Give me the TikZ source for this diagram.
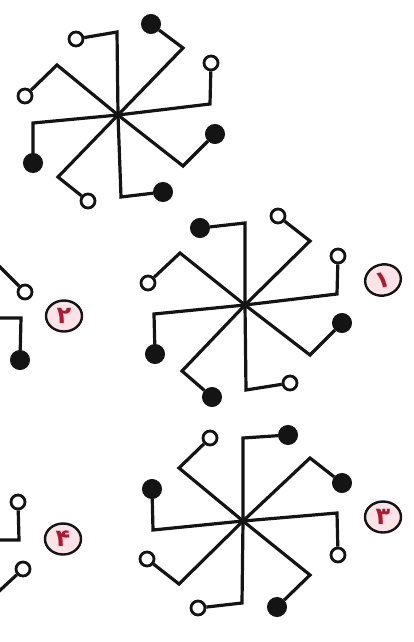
\documentclass[tikz,border=0pt]{standalone}
\usepackage{fontspec}
\usetikzlibrary{shapes.geometric}
\newfontfamily\arabicfont[Script=Arabic]{DejaVu Sans}
\definecolor{WheelInk}{HTML}{141414}
\definecolor{LabelRed}{HTML}{B01830}
\definecolor{LabelPink}{HTML}{FBE3E8}

\begin{document}
\begin{tikzpicture}[
  x=1pt, y=-1pt,
  arm/.style={draw=WheelInk, line width=3.2pt, line join=miter},
  opendot/.style={circle, draw=WheelInk, line width=2.8pt, fill=white,
    minimum size=14pt, inner sep=0pt},
  fulldot/.style={circle, draw=WheelInk, line width=1pt, fill=WheelInk,
    minimum size=19pt, inner sep=0pt},
  numlabel/.style={ellipse, draw=WheelInk, line width=2.4pt, fill=LabelPink,
    minimum width=36pt, minimum height=31pt, inner sep=0pt, text=LabelRed,
    font=\arabicfont\bfseries\fontsize{24}{24}\selectfont}
]
  \useasboundingbox (0,0) rectangle (413,642);
  \clip (0,0) rectangle (413,642);

  % top wheel
  \coordinate (top) at (118,115);
  \foreach \ex/\ey/\dx/\dy/\kind [count=\i] in {
      117/32/76/39/opendot, 183/48/151/24/fulldot,
      210/104/211/63/opendot, 183/166/215/134/fulldot,
      121/197/163/192/fulldot, 58/177/88/201/opendot,
      33/123/33/163/fulldot, 57/65/25/96/opendot}{
    \coordinate (top-e\i) at (\ex,\ey);
    \node[\kind] (top-d\i) at (\dx,\dy) {};
    \draw[arm] (top) -- (top-e\i) -- (top-d\i);
  }

  % wheel 1
  \coordinate (one) at (245,305);
  \foreach \ex/\ey/\dx/\dy/\kind [count=\i] in {
      245/223/200/228/fulldot, 310/241/278/216/opendot,
      337/294/338/256/opendot, 310/355/342/323/fulldot,
      246/390/290/383/opendot, 182/371/212/397/fulldot,
      154/314/155/354/fulldot, 180/253/148/283/opendot}{
    \coordinate (one-e\i) at (\ex,\ey);
    \node[\kind] (one-d\i) at (\dx,\dy) {};
    \draw[arm] (one) -- (one-e\i) -- (one-d\i);
  }

  % wheel 3
  \coordinate (three) at (243,521);
  \foreach \ex/\ey/\dx/\dy/\kind [count=\i] in {
      243/438/288/435/fulldot, 310/458/342/483/fulldot,
      337/513/338/555/opendot, 310/575/277/607/fulldot,
      242/603/198/608/opendot, 179/584/147/559/opendot,
      153/530/152/489/fulldot, 179/468/210/438/opendot}{
    \coordinate (three-e\i) at (\ex,\ey);
    \node[\kind] (three-d\i) at (\dx,\dy) {};
    \draw[arm] (three) -- (three-e\i) -- (three-d\i);
  }

  % wheels 2 and 4, cut by the left edge
  \coordinate (two-e1) at (-4,263);
  \node[opendot] (two-d1) at (25,292) {};
  \draw[arm] (two-e1) -- (two-d1);
  \coordinate (two-a2) at (-4,318);
  \coordinate (two-e2) at (21,318);
  \node[fulldot] (two-d2) at (20,360) {};
  \draw[arm] (two-a2) -- (two-e2) -- (two-d2);

  \coordinate (four-a1) at (-4,540);
  \coordinate (four-e1) at (19,540);
  \node[opendot] (four-d1) at (18,502) {};
  \draw[arm] (four-a1) -- (four-e1) -- (four-d1);
  \coordinate (four-e2) at (-4,594);
  \node[opendot] (four-d2) at (23,569) {};
  \draw[arm] (four-e2) -- (four-d2);

  % number tags
  \node[numlabel, rotate=15] (tag1) at (383,280) {۱};
  \node[numlabel] (tag2) at (64,316) {۲};
  \node[numlabel] (tag3) at (383,517) {۳};
  \node[numlabel] (tag4) at (63,539) {۴};
\end{tikzpicture}
\end{document}
